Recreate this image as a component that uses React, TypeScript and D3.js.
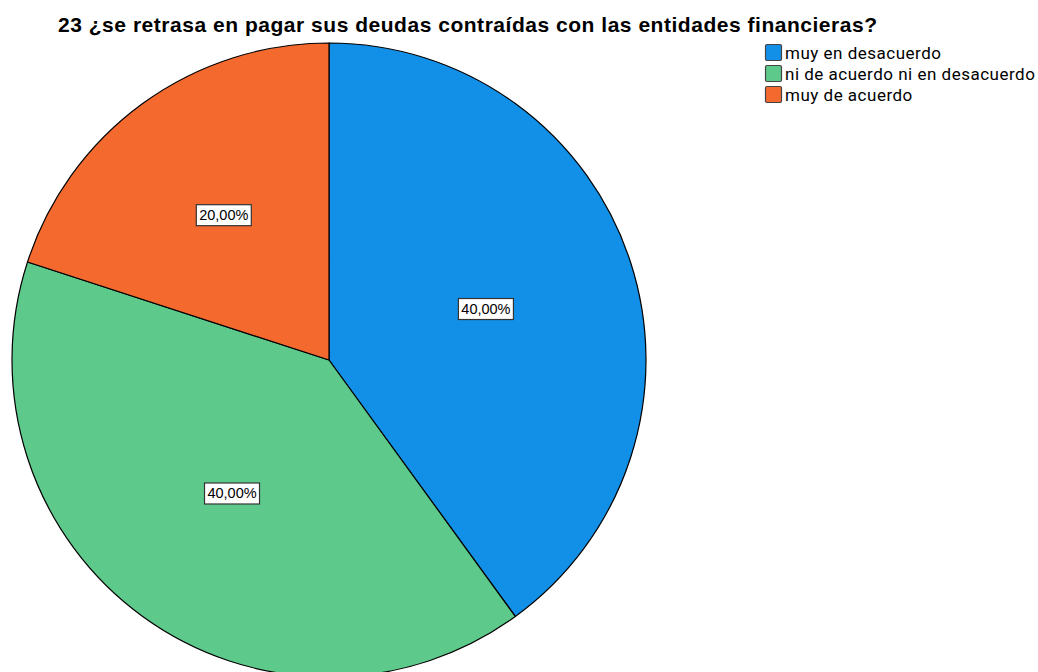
import * as d3 from 'd3'
import { FC } from 'react'

const WIDTH = 1038
const HEIGHT = 672
const CENTER = { x: 329, y: 360 }
const RADIUS = 317

const TITLE = '23 ¿se retrasa en pagar sus deudas contraídas con las entidades financieras?'
const CATEGORIES = ['muy en desacuerdo', 'ni de acuerdo ni en desacuerdo', 'muy de acuerdo']
const PERCENTS = [40, 40, 20]
const COLORS = ['#1290E8', '#5DCA8B', '#F4692E']
// label distance from centre, per slice (SPSS pushes the small slice's label out a bit)
const LABEL_RADII = [165, 165, 179]

const App: FC = () => {
  const data = CATEGORIES.map((key, i) => ({ key, value: PERCENTS[i], color: COLORS[i] }))

  const pie = d3
    .pie<{ key: string; value: number; color: string }>()
    .value((d) => d.value)
    .sort(null)

  const arcs = pie(data)
  const arcGen = d3.arc<d3.PieArcDatum<any>>().innerRadius(0).outerRadius(RADIUS)
  const fmt = (v: number) => d3.format('.2f')(v).replace('.', ',') + '%'

  return (
    <svg
      width={ WIDTH }
      height={ HEIGHT }
      style={ { position: 'absolute', left: 0, top: 0, background: '#fff' } }
    >
      <text
        x={ 58 }
        y={ 32 }
        fontFamily='Liberation Sans, Arial, sans-serif'
        fontWeight='bold'
        fontSize={ 21 }
        textLength={ 819 }
        lengthAdjust='spacing'
        fill='#000'
      >
        { TITLE }
      </text>

      <g transform={ `translate(${CENTER.x},${CENTER.y})` }>
        { arcs.map((a, i) => (
          <path
            key={ i }
            d={ arcGen(a) as string }
            fill={ a.data.color }
            stroke='#000'
            strokeWidth={ 1.2 }
            strokeLinejoin='round'
          />
        )) }
        { arcs.map((a, i) => {
          const r = LABEL_RADII[i]
          const [cx, cy] = d3.arc<d3.PieArcDatum<any>>().innerRadius(r).outerRadius(r).centroid(a)
          return (
            <g key={ i } transform={ `translate(${cx},${cy})` }>
              <rect x={ -27.5 } y={ -10.5 } width={ 55 } height={ 21 } fill='#fff' stroke='#333' strokeWidth={ 1.2 } />
              <text
                textAnchor='middle'
                dominantBaseline='central'
                fontFamily='Liberation Sans, Arial, sans-serif'
                fontSize={ 14.5 }
                fill='#000'
              >
                { fmt(a.data.value) }
              </text>
            </g>
          )
        }) }
      </g>

      <g transform='translate(765,44)'>
        { data.map((d, i) => (
          <g key={ i } transform={ `translate(0,${i * 21})` }>
            <rect x={ 0.5 } y={ 0.5 } width={ 16 } height={ 16 } rx={ 1.5 } fill={ d.color } stroke='#444' strokeWidth={ 1.2 } />
            <text
              x={ 20 }
              y={ 9 }
              dominantBaseline='central'
              fontFamily='Roboto, sans-serif'
              fontSize={ 17 }
              letterSpacing={ 0.5 }
              fill='#000'
            >
              { d.key }
            </text>
          </g>
        )) }
      </g>
    </svg>
  )
}

export default App
